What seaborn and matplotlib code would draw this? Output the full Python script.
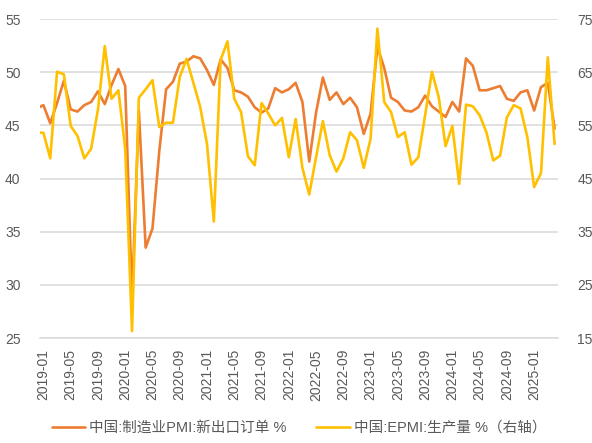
import numpy as np
import pandas as pd
import matplotlib
matplotlib.use("Agg")
import matplotlib.pyplot as plt
import seaborn as sns

# ---------------------------------------------------------------
# Data: monthly, 2018-12 .. 2025-04 (2018-12 sits just off the left edge)
# ---------------------------------------------------------------
months = pd.period_range("2018-12", "2025-04", freq="M").strftime("%Y-%m").tolist()

# 中国:制造业PMI:新出口订单 (left axis)
pmi_export = [
    46.6,
    46.9, 45.2, 47.1, 49.2, 46.5, 46.3, 46.9, 47.2, 48.2, 47.0, 48.8, 50.3,
    48.7, 28.7, 46.4, 33.5, 35.3, 42.6, 48.4, 49.1, 50.8, 51.0, 51.5, 51.3,
    50.2, 48.8, 51.2, 50.4, 48.3, 48.1, 47.7, 46.7, 46.2, 46.6, 48.5, 48.1,
    48.4, 49.0, 47.2, 41.6, 46.2, 49.5, 47.4, 48.1, 47.0, 47.6, 46.7, 44.2,
    46.1, 52.4, 50.4, 47.6, 47.2, 46.4, 46.3, 46.7, 47.8, 46.8, 46.3, 45.8,
    47.2, 46.3, 51.3, 50.6, 48.3, 48.3, 48.5, 48.7, 47.5, 47.3, 48.1, 48.3,
    46.4, 48.6, 49.0, 44.7,
]

# 中国:EPMI:生产量 (right axis)
epmi_output = [
    53.7,
    53.6, 48.8, 65.1, 64.6, 54.9, 53.0, 48.8, 50.6, 58.0, 69.9, 60.0, 61.6,
    50.6, 16.3, 60.2, 61.8, 63.5, 54.7, 55.5, 55.5, 64.1, 67.5, 63.0, 58.5,
    51.5, 36.9, 67.3, 70.8, 60.0, 57.5, 49.2, 47.5, 59.2, 57.2, 55.0, 56.4,
    49.0, 56.2, 47.0, 42.0, 49.0, 55.8, 49.4, 46.3, 48.8, 53.7, 52.2, 47.0,
    52.5, 73.2, 59.4, 57.5, 52.8, 53.7, 47.6, 49.0, 56.9, 65.1, 60.3, 51.1,
    54.9, 44.0, 58.9, 58.6, 56.9, 53.7, 48.4, 49.3, 56.5, 58.8, 58.2, 52.8,
    43.4, 46.0, 67.8, 51.5,
]

label_left = "中国:制造业PMI:新出口订单 %"
label_right = "中国:EPMI:生产量 %（右轴）"

df = pd.DataFrame({"month": months, "pmi": pmi_export, "epmi": epmi_output})
df["idx"] = np.arange(len(df)) - 1  # 2019-01 -> 0

# ---------------------------------------------------------------
# Plot
# ---------------------------------------------------------------
sns.set_style("white")
plt.rcParams["font.family"] = ["Liberation Sans", "Noto Sans CJK SC", "DejaVu Sans"]

c_orange = "#ED7D31"
c_yellow = "#FFC000"
c_text = "#595959"
c_grid = "#D9D9D9"

fig, ax = plt.subplots(figsize=(5.92, 4.43), dpi=100)
fig.subplots_adjust(left=0.0676, right=0.9426, top=0.957, bottom=0.237)
ax2 = ax.twinx()

sns.lineplot(data=df, x="idx", y="pmi", ax=ax, color=c_orange, lw=1.9, label=label_left, legend=False)
sns.lineplot(data=df, x="idx", y="epmi", ax=ax2, color=c_yellow, lw=1.9, label=label_right, legend=False)

n = int(df["idx"].max()) + 1
ax.set_xlim(-0.5, n - 0.5)
ax.set_ylim(25, 55)
ax2.set_ylim(15, 75)
ax.set_yticks(np.arange(25, 56, 5))
ax2.set_yticks(np.arange(15, 76, 10))

ax.grid(axis="y", color=c_grid, lw=1.1)
ax.set_axisbelow(True)

# x labels every 4 months from 2019-01, tick marks on category boundaries
lab = df[df["idx"] >= 0].iloc[::4]
ax.set_xticks(lab["idx"])
ax.set_xticklabels(lab["month"], rotation=90)
ax.set_xticks(np.arange(-0.5, n, 4), minor=True)
ax.tick_params(axis="x", which="major", length=0, pad=8, labelsize=10, labelcolor=c_text)
ax.tick_params(axis="x", which="minor", length=4, width=1, color=c_grid)
ax.tick_params(axis="y", length=0, pad=14, labelsize=10, labelcolor=c_text)
ax2.tick_params(axis="y", length=0, pad=14, labelsize=10, labelcolor=c_text)

for a in (ax, ax2):
    for side in ("top", "left", "right"):
        a.spines[side].set_visible(False)
    a.set_xlabel("")
    a.set_ylabel("")
ax.spines["bottom"].set_color(c_grid)
ax.spines["bottom"].set_linewidth(1.1)
ax2.spines["bottom"].set_visible(False)

h1, l1 = ax.get_legend_handles_labels()
h2, l2 = ax2.get_legend_handles_labels()
leg = fig.legend(h1 + h2, l1 + l2, loc="center", bbox_to_anchor=(0.505, 0.034), ncol=2,
                 frameon=False, fontsize=10.5, handlelength=2.3, columnspacing=2.0,
                 handletextpad=0.3)
for t in leg.get_texts():
    t.set_color(c_text)

fig.savefig("out.png", dpi=100)
